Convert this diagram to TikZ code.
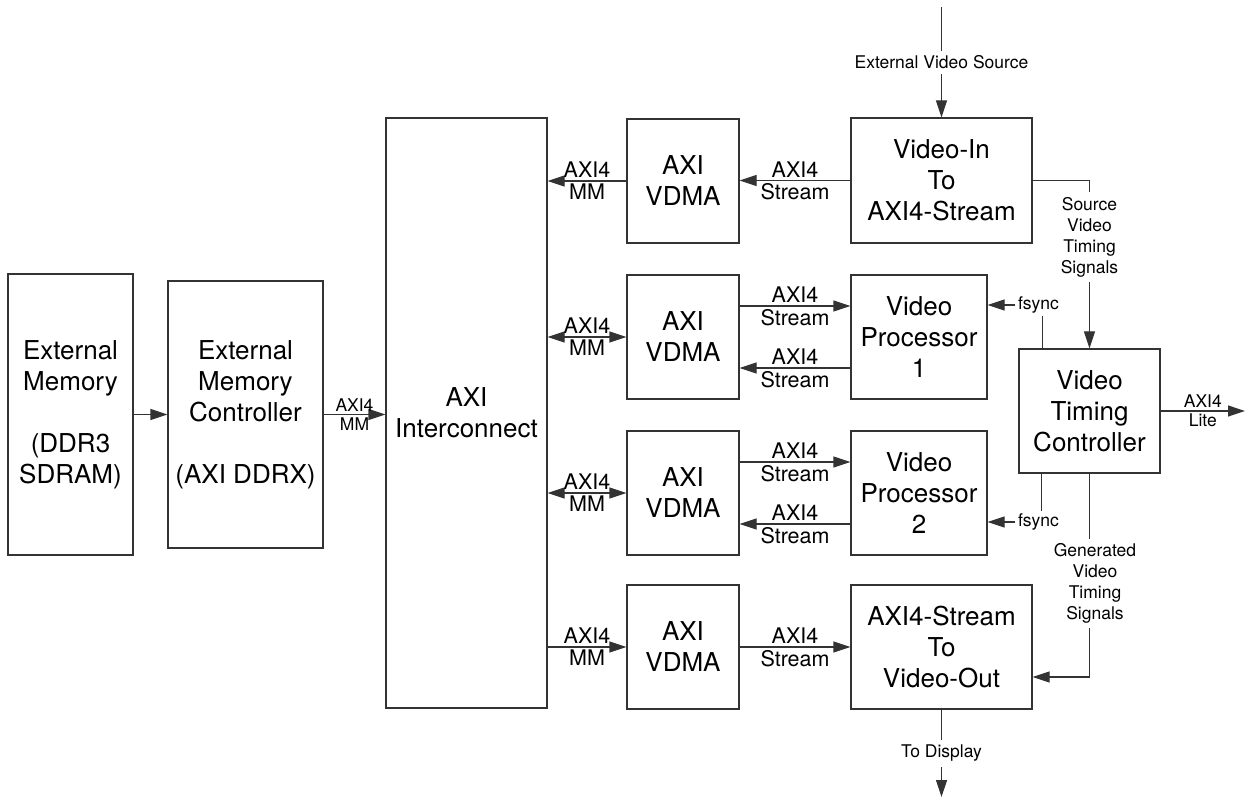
\documentclass[tikz,border=0pt]{standalone}
\usepackage{fontspec}
\setmainfont{TeX Gyre Heros}
\usetikzlibrary{arrows.meta,calc}
\begin{document}
\begin{tikzpicture}[x=1pt,y=-1pt,
  box/.style={draw=black!80, line width=1.2pt, align=center, inner sep=0pt,
    font=\fontsize{26}{31}\selectfont},
  ln/.style={draw=black!80, line width=1.2pt},
  arr/.style={ln, -{Triangle[length=17pt,width=11pt]}},
  darr/.style={ln, {Triangle[length=17pt,width=11pt]}-{Triangle[length=17pt,width=11pt]}},
  lblM/.style={font=\fontsize{21.5}{25}\selectfont, inner sep=2.5pt, align=center},
  lblS/.style={font=\fontsize{17.5}{21}\selectfont, inner sep=2.5pt, align=center},
  gap/.style={fill=white, inner sep=5pt}
]
\fill[white] (0,0) rectangle (1251,799);
\useasboundingbox (0,0) rectangle (1251,799);

% boxes
\node[box, minimum width=125pt, minimum height=281pt] (mem) at (70.5,414.5)
  {External\\Memory\\[31pt](DDR3\\SDRAM)};
\node[box, minimum width=155pt, minimum height=267pt] (ctrl) at (245.5,414.5)
  {External\\Memory\\Controller\\[31pt](AXI DDRX)};
\node[box, minimum width=161pt, minimum height=590pt] (ic) at (466.5,413)
  {AXI\\Interconnect};
\node[box, minimum width=112pt, minimum height=124pt] (v1) at (683,181) {AXI\\VDMA};
\node[box, minimum width=112pt, minimum height=124pt] (v2) at (683,337) {AXI\\VDMA};
\node[box, minimum width=112pt, minimum height=124pt] (v3) at (683,493) {AXI\\VDMA};
\node[box, minimum width=112pt, minimum height=124pt] (v4) at (683,647) {AXI\\VDMA};
\node[box, minimum width=181pt, minimum height=125pt] (vin) at (941.5,180.5)
  {Video-In\\To\\AXI4-Stream};
\node[box, minimum width=136pt, minimum height=124pt] (p1) at (919,337)
  {Video\\Processor\\1};
\node[box, minimum width=136pt, minimum height=124pt] (p2) at (919,493)
  {Video\\Processor\\2};
\node[box, minimum width=181pt, minimum height=124pt] (vout) at (941.5,647)
  {AXI4-Stream\\To\\Video-Out};
\node[box, minimum width=141pt, minimum height=124pt] (vtc) at (1089.5,411)
  {Video\\Timing\\Controller};

% memory side
\draw[arr] (mem.east) -- (ctrl.west);
\draw[arr] (ctrl.east) -- (ctrl.east -| ic.west)
  node[lblS, midway, above] {AXI4} node[lblS, midway, below] {MM};

% row 1
\draw[arr] (v1.west) -- (v1.west -| ic.east)
  node[lblM, midway, above] {AXI4} node[lblM, midway, below] {MM};
\draw[arr] (vin.west) -- (vin.west -| v1.east)
  node[lblM, midway, above] {AXI4} node[lblM, midway, below] {Stream};

% row 2
\draw[darr] (v2.west -| ic.east) -- (v2.west)
  node[lblM, midway, above] {AXI4} node[lblM, midway, below] {MM};
\draw[arr] ($(v2.east)+(0,-31)$) -- ($(p1.west)+(0,-31)$)
  node[lblM, midway, above] {AXI4} node[lblM, midway, below] {Stream};
\draw[arr] ($(p1.west)+(0,31)$) -- ($(v2.east)+(0,31)$)
  node[lblM, midway, above] {AXI4} node[lblM, midway, below] {Stream};

% row 3
\draw[darr] (v3.west -| ic.east) -- (v3.west)
  node[lblM, midway, above] {AXI4} node[lblM, midway, below] {MM};
\draw[arr] ($(v3.east)+(0,-31)$) -- ($(p2.west)+(0,-31)$)
  node[lblM, midway, above] {AXI4} node[lblM, midway, below] {Stream};
\draw[arr] ($(p2.west)+(0,31)$) -- ($(v3.east)+(0,31)$)
  node[lblM, midway, above] {AXI4} node[lblM, midway, below] {Stream};

% row 4
\draw[arr] (v4.west -| ic.east) -- (v4.west)
  node[lblM, midway, above] {AXI4} node[lblM, midway, below] {MM};
\draw[arr] (v4.east) -- (vout.west)
  node[lblM, midway, above] {AXI4} node[lblM, midway, below] {Stream};

% external source / display
\coordinate (src) at (941.5,7);
\draw[arr] (src) -- (vin.north)
  node[lblS, gap, midway] {External Video Source};
\coordinate (disp) at (941.5,797);
\draw[arr] (vout.south) -- (disp)
  node[lblS, gap, midway] {To Display};

% timing signals
\coordinate (st) at (vtc.north |- vin.east);
\draw[arr] (vin.east) -- (st) -- (vtc.north);
\node[lblS, gap] (stl) at (1089.5,237) {Source\\Video\\Timing\\Signals};

\coordinate (gt) at (1089.5,677);
\draw[arr] (vtc.south) -- (gt) -- (gt -| vout.east);
\node[lblS, gap] (gtl) at (1095,583.5) {Generated\\Video\\Timing\\Signals};

% fsync
\node[lblS] (fs1) at (1038.5,305) {fsync};
\draw[arr] (fs1.west) -- (fs1.west -| p1.east);
\coordinate (f1) at ($(vtc.north west)+(24,0)$);
\draw[ln] (f1) -- (f1 |- fs1.south);

\node[lblS] (fs2) at (1038.5,522) {fsync};
\draw[arr] (fs2.west) -- (fs2.west -| p2.east);
\coordinate (f2) at ($(vtc.south west)+(23,0)$);
\draw[ln] (f2) -- (f2 |- fs2.north);

% AXI4 Lite
\coordinate (lite) at (1245,411);
\draw[arr] (vtc.east) -- (lite)
  node[lblS, midway, above] {AXI4} node[lblS, midway, below] {Lite};
\end{tikzpicture}
\end{document}
